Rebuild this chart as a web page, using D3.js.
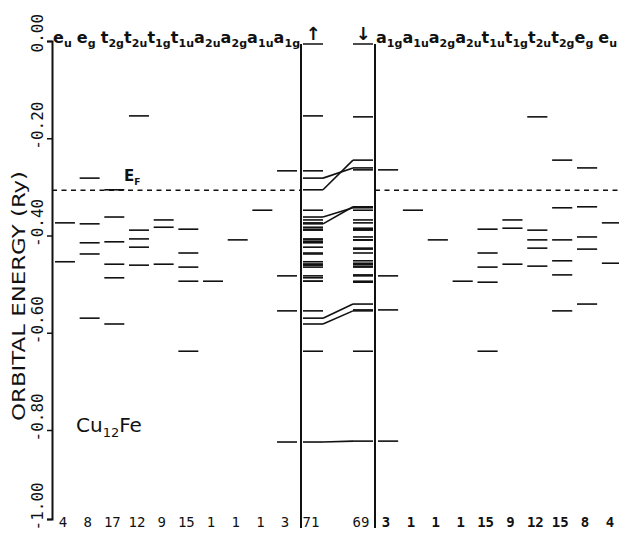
<!DOCTYPE html>
<html>
<head>
<meta charset="utf-8">
<script src="https://cdn.jsdelivr.net/npm/d3@7"></script>
<style>
  body { margin: 0; background: #fff; }
</style>
</head>
<body>
<div id="chart"></div>
<script>
// irreps in the order they are printed on each side
const leftIrreps = ['eu', 'eg', 't2g', 't2u', 't1g', 't1u', 'a2u', 'a2g', 'a1u', 'a1g']
const rightIrreps = ['a1g', 'a1u', 'a2g', 'a2u', 't1u', 't1g', 't2u', 't2g', 'eg', 'eu']
const leftCounts = [4, 8, 17, 12, 9, 15, 1, 1, 1, 3]
const rightCounts = [3, 1, 1, 1, 15, 9, 12, 15, 8, 4]
const spinTotals = [71, 69]
const yTicks = [0, -0.2, -0.4, -0.6, -0.8, -1.0]
const fermi = -0.307

// spin up levels (Ry), left panel
const upEu = [-0.374, -0.454]
const upEg = [-0.282, -0.376, -0.415, -0.438, -0.570]
const upT2g = [-0.306, -0.362, -0.413, -0.459, -0.487, -0.582]
const upT2u = [-0.154, -0.389, -0.407, -0.424, -0.461]
const upT1g = [-0.368, -0.383, -0.459]
const upT1u = [-0.387, -0.436, -0.465, -0.494, -0.638]
const upA2u = [-0.494]
const upA2g = [-0.409]
const upA1u = [-0.348]
const upA1g = [-0.267, -0.483, -0.555, -0.827]

// spin down levels (Ry), right panel
const dnA1g = [-0.265, -0.483, -0.553, -0.825]
const dnA1u = [-0.348]
const dnA2g = [-0.409]
const dnA2u = [-0.494]
const dnT1u = [-0.387, -0.436, -0.465, -0.496, -0.638]
const dnT1g = [-0.368, -0.385, -0.459]
const dnT2u = [-0.156, -0.389, -0.409, -0.426, -0.463]
const dnT2g = [-0.245, -0.343, -0.409, -0.452, -0.481, -0.555]
const dnEg = [-0.261, -0.341, -0.403, -0.428, -0.541]
const dnEu = [-0.374, -0.457]

// levels joined between the up and down columns: [irrep, index]
const links = [['eg', 0], ['t2g', 0], ['t2g', 1], ['eg', 1], ['eg', 4], ['t2g', 5], ['a1g', 3]]

const upLevels = {eu: upEu, eg: upEg, t2g: upT2g, t2u: upT2u, t1g: upT1g, t1u: upT1u, a2u: upA2u, a2g: upA2g, a1u: upA1u, a1g: upA1g}
const dnLevels = {a1g: dnA1g, a1u: dnA1u, a2g: dnA2g, a2u: dnA2u, t1u: dnT1u, t1g: dnT1g, t2u: dnT2u, t2g: dnT2g, eg: dnEg, eu: dnEu}

const ink = '#111'
const svg = d3.select('#chart').append('svg')
  .attr('width', 619)
  .attr('height', 537)

const y = d3.scaleLinear().domain([0, -0.8, -1]).range([41, 430, 519])
const xl = d3.scaleBand().domain(leftIrreps).range([52.5, 299.5]).paddingInner(0.19).paddingOuter(0.1)
const xr = d3.scaleBand().domain(rightIrreps).range([375.5, 624.5]).paddingInner(0.19).paddingOuter(0.1)
const xc = d3.scaleBand().domain(['up', 'down']).range([302, 374]).paddingInner(0.6).paddingOuter(0.02)
const bw = xc.bandwidth()

// energy axis
const axis = svg.append('g')
  .attr('transform', 'translate(52,0)')
  .call(d3.axisLeft(y).tickValues(yTicks).tickSize(5).tickFormat(d => d.toFixed(2)))
axis.select('.domain').attr('stroke', ink).attr('stroke-width', 2)
axis.selectAll('.tick line').attr('stroke', ink).attr('stroke-width', 1.5)
axis.selectAll('.tick text')
  .attr('transform', 'rotate(-90)')
  .attr('x', -11)
  .attr('y', -9)
  .attr('dy', 0)
  .attr('text-anchor', 'start')
  .attr('fill', ink)
  .attr('font-family', 'DejaVu Sans Mono')
  .attr('font-size', 16)

svg.append('text')
  .attr('transform', 'translate(25,296) rotate(-90)')
  .attr('text-anchor', 'middle')
  .attr('font-family', 'DejaVu Sans')
  .attr('font-size', 17)
  .attr('textLength', 250)
  .attr('lengthAdjust', 'spacingAndGlyphs')
  .attr('fill', ink)
  .text('ORBITAL ENERGY (Ry)')

// spin column frame
const frameTop = y(0) + 3
const frameBottom = 528
svg.selectAll('.frame')
  .data([xc.range()[0] - 1, xc.range()[1] + 1])
  .enter()
  .append('line')
  .attr('class', 'frame')
  .attr('x1', d => d).attr('x2', d => d)
  .attr('y1', frameTop).attr('y2', frameBottom)
  .attr('stroke', ink)
  .attr('stroke-width', 2)
svg.selectAll('.cap')
  .data(xc.domain())
  .enter()
  .append('line')
  .attr('class', 'cap')
  .attr('x1', d => xc(d)).attr('x2', d => xc(d) + bw)
  .attr('y1', frameTop).attr('y2', frameTop)
  .attr('stroke', ink)
  .attr('stroke-width', 1.5)

// fermi level, dashed across both side panels
svg.selectAll('.fermi')
  .data([[52, xc.range()[0] - 1], [xc.range()[1] + 1, 619]])
  .enter()
  .append('line')
  .attr('class', 'fermi')
  .attr('x1', d => d[0]).attr('x2', d => d[1])
  .attr('y1', y(fermi)).attr('y2', y(fermi))
  .attr('stroke', ink)
  .attr('stroke-width', 1.5)
  .attr('stroke-dasharray', '5,4.5')

function drawLevels (cls, rows, x1, x2) {
  svg.append('g').attr('class', cls)
    .selectAll('line')
    .data(rows)
    .enter()
    .append('line')
    .attr('x1', x1)
    .attr('x2', x2)
    .attr('y1', d => y(d.e))
    .attr('y2', d => y(d.e))
    .attr('stroke', ink)
    .attr('stroke-width', 1.6)
}

const upRows = leftIrreps.flatMap(k => upLevels[k].map(e => ({k, e})))
const dnRows = rightIrreps.flatMap(k => dnLevels[k].map(e => ({k, e})))

drawLevels('left', upRows, d => xl(d.k), d => xl(d.k) + xl.bandwidth())
drawLevels('right', dnRows, d => xr(d.k), d => xr(d.k) + xr.bandwidth())
drawLevels('up', upRows, xc('up'), xc('up') + bw)
drawLevels('down', dnRows, xc('down'), xc('down') + bw)

svg.append('g').attr('class', 'links')
  .selectAll('line')
  .data(links)
  .enter()
  .append('line')
  .attr('x1', xc('up') + bw)
  .attr('x2', xc('down'))
  .attr('y1', d => y(upLevels[d[0]][d[1]]))
  .attr('y2', d => y(dnLevels[d[0]][d[1]]))
  .attr('stroke', ink)
  .attr('stroke-width', 1.6)

// irrep labels along the top, printed as one run of text
function labelRow (x0, len, irreps) {
  let t = svg.append('text')
    .attr('x', x0)
    .attr('y', 43)
    .attr('font-family', 'DejaVu Sans')
    .attr('font-weight', 'bold')
    .attr('fill', ink)
    .attr('textLength', len)
    .attr('lengthAdjust', 'spacing')
  irreps.forEach((k, i) => {
    let gap = i > 0 && irreps[i - 1][0] === 'e' ? 5 : 0
    t.append('tspan').attr('font-size', 16).attr('dx', gap).attr('dy', i ? -4 : 0).text(k[0])
    t.append('tspan').attr('font-size', 11).attr('dy', 4).text(k.slice(1))
  })
}
labelRow(53, 247, leftIrreps)
labelRow(376, 241, rightIrreps)

// spin arrows
svg.selectAll('.arrow')
  .data([['up', '\u2191'], ['down', '\u2193']])
  .enter()
  .append('text')
  .attr('class', 'arrow')
  .attr('x', d => xc(d[0]) + bw / 2)
  .attr('y', 40)
  .attr('text-anchor', 'middle')
  .attr('font-family', 'DejaVu Sans')
  .attr('font-weight', 'bold')
  .attr('font-size', 18)
  .attr('fill', ink)
  .text(d => d[1])

// E_F label
let ef = svg.append('text')
  .attr('x', 124)
  .attr('y', y(fermi) - 9)
  .attr('font-family', 'DejaVu Sans')
  .attr('font-weight', 'bold')
  .attr('fill', ink)
ef.append('tspan').attr('font-size', 15).text('E')
ef.append('tspan').attr('font-size', 9).attr('dy', 4).text('F')

// compound name
let cu = svg.append('text')
  .attr('x', 76)
  .attr('y', 432)
  .attr('font-family', 'DejaVu Sans')
  .attr('fill', ink)
cu.append('tspan').attr('font-size', 20).text('Cu')
cu.append('tspan').attr('font-size', 13).attr('dy', 5).text('12')
cu.append('tspan').attr('font-size', 20).attr('dy', -5).text('Fe')

// level counts along the bottom
function countRow (x, irreps, counts, weight) {
  svg.append('g')
    .selectAll('text')
    .data(counts)
    .enter()
    .append('text')
    .attr('x', (d, i) => x(irreps[i]) + x.bandwidth() / 2 - 2)
    .attr('y', 527)
    .attr('text-anchor', 'middle')
    .attr('font-family', 'DejaVu Sans Mono')
    .attr('font-weight', weight)
    .attr('font-size', 14)
    .attr('fill', ink)
    .text(d => d)
}
countRow(xl, leftIrreps, leftCounts, 'normal')
countRow(xr, rightIrreps, rightCounts, 'bold')
countRow(xc, xc.domain(), spinTotals, 'normal')
</script>
</body>
</html>
